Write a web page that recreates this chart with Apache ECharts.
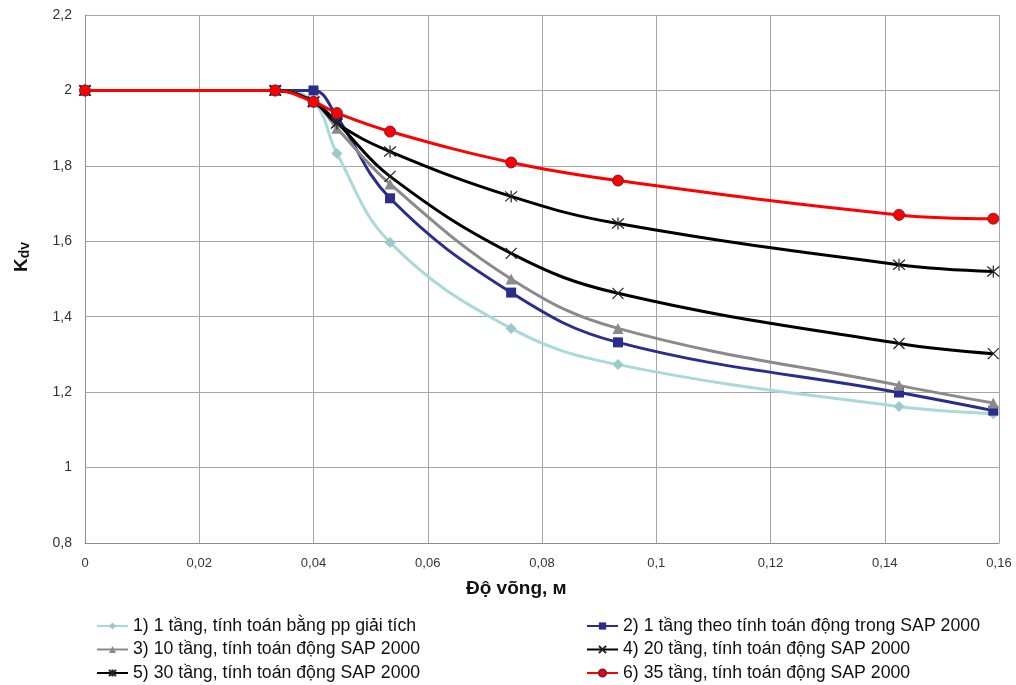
<!DOCTYPE html>
<html>
<head>
<meta charset="utf-8">
<script src="https://cdn.jsdelivr.net/npm/echarts@6/dist/echarts.min.js"></script>
<style>
  html, body { margin: 0; padding: 0; background: #fff; }
  #chart { width: 1016px; height: 685px; }
</style>
</head>
<body>
<div id="chart"></div>
<script>
// độ võng (m) tại các điểm tính
const deflection = [0, 0.0333, 0.04, 0.0441, 0.0534, 0.0746, 0.0933, 0.1425, 0.159]

const names = [
  '1) 1 tầng, tính toán bằng pp giải tích',
  '2) 1 tầng theo tính toán động trong SAP 2000',
  '3) 10 tầng, tính toán động SAP 2000',
  '4) 20 tầng, tính toán động SAP 2000',
  '5) 30 tầng, tính toán động SAP 2000',
  '6) 35 tầng, tính toán động SAP 2000'
]

const k1 = [2, 2, 1.97, 1.833, 1.597, 1.369, 1.273, 1.162, 1.143]
const k2 = [2, 2, 2.0, 1.93, 1.714, 1.464, 1.332, 1.199, 1.151]
const k3 = [2, 2, 1.97, 1.90, 1.752, 1.500, 1.369, 1.218, 1.171]
const k4 = [2, 2, 1.97, 1.915, 1.772, 1.568, 1.462, 1.329, 1.302]
const k5 = [2, 2, 1.97, 1.912, 1.838, 1.719, 1.647, 1.538, 1.520]
const k6 = [2, 2, 1.97, 1.94, 1.891, 1.809, 1.761, 1.670, 1.660]

const yTicks = { min: 0.8, max: 2.2, step: 0.2 }
const xTicks = { min: 0, max: 0.16, step: 0.02 }

const pairs = vals => deflection.map((x, i) => [x, vals[i]])
const comma = v => String(+v.toFixed(2)).replace('.', ',')

const xMark = 'path://M0,0 L10,10 M10,0 L0,10'
const starMark = 'path://M0,0 L10,10 M10,0 L0,10 M5,-1 L5,11'

function line(name, vals, color, symbol, size, extra) {
  return Object.assign({
    name: name,
    type: 'line',
    data: pairs(vals),
    smooth: 0.4,
    symbol: symbol,
    symbolSize: size,
    lineStyle: { color: color, width: 3 },
    itemStyle: { color: color },
    emphasis: { disabled: true }
  }, extra || {})
}

const legendStyle = {
  orient: 'vertical', top: 617, height: 68, itemGap: 5.5,
  itemWidth: 31, itemHeight: 9, padding: 0,
  textStyle: { fontSize: 17.7, lineHeight: 18, color: '#111' }
}

const myChart = echarts.init(document.getElementById('chart'))
myChart.setOption({
  animation: false,
  textStyle: { fontFamily: 'Liberation Sans, Arial, sans-serif' },
  grid: { left: 85, right: 17, top: 15, bottom: 142 },
  xAxis: {
    type: 'value',
    min: xTicks.min,
    max: xTicks.max,
    interval: xTicks.step,
    axisLine: { show: true, lineStyle: { color: '#8c8c8c' } },
    axisTick: { show: false },
    axisLabel: { color: '#333', fontSize: 13, margin: 14, formatter: comma },
    splitLine: { lineStyle: { color: '#a6a6a6', width: 1 } }
  },
  yAxis: {
    type: 'value',
    min: yTicks.min,
    max: yTicks.max,
    interval: yTicks.step,
    axisLine: { show: true, lineStyle: { color: '#8c8c8c' } },
    axisTick: { show: false },
    axisLabel: { color: '#333', fontSize: 14, margin: 13, formatter: comma },
    splitLine: { lineStyle: { color: '#a6a6a6', width: 1 } }
  },
  legend: [
    Object.assign({ left: 96, data: [names[0], names[2], names[4]] }, legendStyle),
    Object.assign({ left: 586, data: [names[1], names[3], names[5]] }, legendStyle)
  ],
  graphic: [
    {
      type: 'text', left: 466, top: 579,
      style: { text: 'Độ võng, м', font: 'bold 19px Liberation Sans, Arial, sans-serif', fill: '#111' }
    },
    {
      type: 'text', x: 12, y: 272, rotation: Math.PI / 2,
      style: {
        text: '{k|K}{s|dv}',
        rich: {
          k: { font: 'bold 19px Liberation Sans, Arial, sans-serif', fill: '#111' },
          s: { font: 'bold 14px Liberation Sans, Arial, sans-serif', fill: '#111', padding: [6, 0, 0, 0] }
        }
      }
    }
  ],
  series: [
    line(names[0], k1, '#a9d9d9', 'diamond', 11, { itemStyle: { color: '#9cc9cb' } }),
    line(names[1], k2, '#2b2d8c', 'rect', 10),
    line(names[2], k3, '#8a8a8a', 'triangle', 11),
    line(names[3], k4, '#000', xMark, 11, {
      itemStyle: { color: 'transparent', borderColor: '#222', borderWidth: 1.2 }
    }),
    line(names[4], k5, '#000', starMark, 12, {
      itemStyle: { color: 'transparent', borderColor: '#222', borderWidth: 1.2 }
    }),
    line(names[5], k6, '#ff0000', 'circle', 11, {
      itemStyle: { color: '#ff0000', borderColor: '#7a1f3a', borderWidth: 1 }
    })
  ]
})
</script>
</body>
</html>
